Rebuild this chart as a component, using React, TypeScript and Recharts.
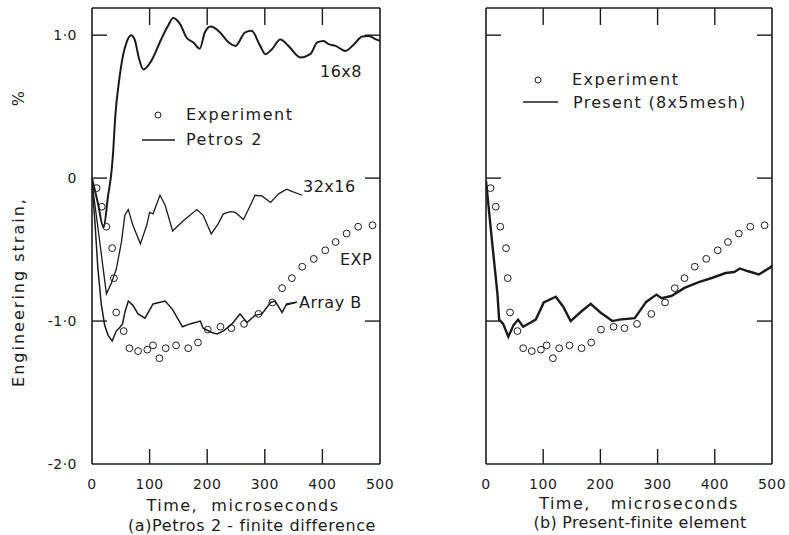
import React from 'react';
import {
  ComposedChart, Line, Scatter, XAxis, YAxis,
} from 'recharts';

// experiment (same test record in both panels)
const EXP_T = [8, 17, 25, 35, 38, 42, 55, 65, 80, 96, 106, 117, 128, 146, 167, 184, 201, 223, 242, 264, 289, 313, 330, 347, 365, 385, 405, 423, 442, 462, 487];
const EXP_V = [-0.07, -0.2, -0.34, -0.49, -0.7, -0.94, -1.07, -1.19, -1.21, -1.2, -1.17, -1.26, -1.19, -1.17, -1.19, -1.15, -1.06, -1.04, -1.05, -1.02, -0.95, -0.87, -0.77, -0.7, -0.62, -0.565, -0.505, -0.447, -0.388, -0.34, -0.33];

// Petros 2, 16x8 mesh
const MESH16_T = [0, 10, 20, 28, 34, 37, 40, 47, 54, 60, 68, 74, 82, 89, 103, 120, 132, 141, 153, 164, 176, 187, 196, 206, 222, 237, 249, 266, 277, 292, 301, 312, 327, 341, 362, 379, 391, 402, 411, 423, 440, 455, 469, 481, 492, 500];
const MESH16_V = [0, -0.17, -0.345, -0.12, 0.05, 0.2, 0.41, 0.68, 0.86, 0.95, 1.0, 0.97, 0.83, 0.76, 0.82, 0.97, 1.065, 1.12, 1.077, 0.984, 0.949, 0.905, 1.02, 1.06, 1.02, 0.95, 0.925, 1.02, 1.03, 0.925, 0.867, 0.9, 0.97, 0.925, 0.844, 0.867, 0.949, 0.96, 0.937, 0.925, 0.89, 0.937, 0.99, 0.995, 0.972, 0.96];

// Petros 2, 32x16 mesh
const MESH32_T = [0, 12, 25, 33, 42, 51, 57, 63, 71, 84, 95, 100, 106, 118, 127, 140, 158, 182, 193, 207, 219, 228, 240, 249, 263, 275, 283, 295, 310, 324, 338, 347, 365];
const MESH32_V = [-0.03, -0.4, -0.81, -0.74, -0.64, -0.45, -0.26, -0.22, -0.33, -0.46, -0.33, -0.24, -0.25, -0.12, -0.19, -0.37, -0.3, -0.22, -0.26, -0.39, -0.32, -0.25, -0.235, -0.24, -0.29, -0.19, -0.12, -0.125, -0.17, -0.11, -0.077, -0.093, -0.12];

// Petros 2, Array B
const ARRAYB_T = [0, 5, 10, 16, 22, 28, 35, 42, 47, 53, 57, 63, 71, 80, 92, 106, 127, 140, 157, 170, 188, 193, 208, 217, 228, 243, 257, 269, 283, 295, 310, 318, 330, 338, 353];
const ARRAYB_V = [-0.03, -0.3, -0.62, -0.88, -1.03, -1.1, -1.14, -1.07, -1.05, -1.02, -0.94, -0.86, -0.89, -0.95, -0.98, -0.88, -0.86, -0.92, -1.04, -1.02, -1.0, -1.05, -1.08, -1.09, -1.07, -1.02, -0.95, -1.01, -0.96, -0.95, -0.87, -0.86, -0.94, -0.88, -0.87];

// present finite element, 8x5 mesh
const PRESENT_T = [0, 11, 20, 23, 30, 39, 48, 56, 65, 87, 101, 122, 135, 148, 166, 183, 200, 221, 233, 260, 280, 298, 307, 324, 347, 372, 396, 419, 434, 444, 457, 477, 498, 500];
const PRESENT_V = [-0.02, -0.46, -0.81, -0.99, -1.02, -1.11, -1.03, -0.99, -1.04, -0.99, -0.87, -0.83, -0.9, -1.0, -0.935, -0.88, -0.94, -1.0, -0.99, -0.98, -0.866, -0.815, -0.84, -0.825, -0.768, -0.727, -0.697, -0.664, -0.657, -0.632, -0.65, -0.674, -0.622, -0.61];

const X_TICKS = [0, 100, 200, 300, 400, 500];
const X_MARKS = [100, 200, 300, 400];
const Y_TICKS = [-2, -1, 0, 1];
const Y_MARKS = [-1, 0, 1];
const Y_TICK_LABELS = ['-2·0', '-1·0', '0', '1·0'];

const zip = (ts: number[], vs: number[]) => ts.map((t, i) => ({ t, v: vs[i] }));
const expData = zip(EXP_T, EXP_V);

const INK = '#1b1b1b';
const FONT = '"DejaVu Sans", sans-serif';
const X_MIN = 0, X_MAX = 500;
const Y_MIN = -2, Y_MAX = 1.19;

// panel geometry (page px): chart offset/size and margins
const H = 535;
const TOP = 7, BOTTOM = 70;
const PANELS = [
  { left: 0, width: 400, ml: 91, mr: 19 },
  { left: 400, width: 389, ml: 85, mr: 16 },
];

function OpenCircle(p: any) {
  return <circle cx={p.cx} cy={p.cy} r={3.4} fill="none" stroke={INK} strokeWidth={1} />;
}

function LeftLabel({ x, y, payload, show }: any) {
  if (!show) return <g />;
  return (
    <text x={x} y={y} dy="0.35em" textAnchor="end" fontSize={14} fontFamily={FONT} fill={INK} letterSpacing={0.5}>
      {Y_TICK_LABELS[Y_TICKS.indexOf(payload.value)]}
    </text>
  );
}

// axes need a non-zero size (1px) or recharts skips drawing them
function frame(labels: boolean) {
  const line = { stroke: INK, strokeWidth: 1.6 };
  return [
    <XAxis key="b" xAxisId="b" dataKey="t" type="number" domain={[X_MIN, X_MAX]} ticks={X_TICKS} interval={0}
      height={1} axisLine={line} tickLine={false} tickMargin={9} allowDataOverflow
      tick={{ fontSize: 14, fill: INK, fontFamily: FONT, letterSpacing: 0.5 }} />,
    <XAxis key="t" xAxisId="top" orientation="top" dataKey="t" type="number" domain={[X_MIN, X_MAX]}
      height={1} axisLine={line} tickLine={false} tick={false} />,
    <YAxis key="l" yAxisId="l" type="number" domain={[Y_MIN, Y_MAX]} ticks={Y_TICKS} interval={0} width={1}
      axisLine={line} tickLine={false} tickMargin={9} allowDataOverflow
      tick={<LeftLabel show={labels} />} />,
    <YAxis key="r" yAxisId="r" orientation="right" type="number" domain={[Y_MIN, Y_MAX]} width={1}
      axisLine={line} tickLine={false} tick={false} allowDataOverflow />,
  ];
}

// inward tick marks on all four sides of a panel box
function PanelTicks({ p }: { p: typeof PANELS[number] }) {
  const x0 = p.left + p.ml + 1, x1 = p.left + p.width - p.mr - 1;
  const y0 = TOP + 1, y1 = H - BOTTOM - 1;
  const sx = (t: number) => x0 + ((t - X_MIN) / (X_MAX - X_MIN)) * (x1 - x0);
  const sy = (v: number) => y0 + ((Y_MAX - v) / (Y_MAX - Y_MIN)) * (y1 - y0);
  return (
    <g stroke={INK} strokeWidth={1.4}>
      {X_MARKS.map((t) => <line key={`b${t}`} x1={sx(t)} x2={sx(t)} y1={y1} y2={y1 - 15} />)}
      {X_MARKS.map((t) => <line key={`t${t}`} x1={sx(t)} x2={sx(t)} y1={y0} y2={y0 + 17} />)}
      {Y_MARKS.map((v) => <line key={`l${v}`} x1={x0} x2={x0 + 15} y1={sy(v)} y2={sy(v)} />)}
      {Y_MARKS.map((v) => <line key={`r${v}`} x1={x1} x2={x1 - 15} y1={sy(v)} y2={sy(v)} />)}
    </g>
  );
}

const txt = (extra: React.CSSProperties): React.CSSProperties => ({
  position: 'absolute', fontFamily: FONT, color: INK, fontSize: 16,
  letterSpacing: 1.5, whiteSpace: 'pre', lineHeight: 1, ...extra,
});

const margin = (i: number) => ({ top: TOP, bottom: BOTTOM, left: PANELS[i].ml, right: PANELS[i].mr });

export default function App() {
  return (
    <div style={{ position: 'absolute', left: 0, top: 0, width: 789, height: H, background: '#fff', overflow: 'hidden' }}>
      <div style={{ position: 'absolute', left: PANELS[0].left, top: 0 }}>
        <ComposedChart width={PANELS[0].width} height={H} margin={margin(0)}>
          {frame(true)}
          <Line xAxisId="b" yAxisId="l" data={zip(MESH16_T, MESH16_V)} dataKey="v" type="monotone"
            stroke={INK} strokeWidth={2} dot={false} isAnimationActive={false} />
          <Line xAxisId="b" yAxisId="l" data={zip(MESH32_T, MESH32_V)} dataKey="v" type="linear"
            stroke={INK} strokeWidth={1.3} dot={false} isAnimationActive={false} />
          <Line xAxisId="b" yAxisId="l" data={zip(ARRAYB_T, ARRAYB_V)} dataKey="v" type="linear"
            stroke={INK} strokeWidth={1.5} dot={false} isAnimationActive={false} />
          <Scatter xAxisId="b" yAxisId="l" data={expData} dataKey="v" shape={OpenCircle} isAnimationActive={false} />
        </ComposedChart>
      </div>
      <div style={{ position: 'absolute', left: PANELS[1].left, top: 0 }}>
        <ComposedChart width={PANELS[1].width} height={H} margin={margin(1)}>
          {frame(false)}
          <Line xAxisId="b" yAxisId="l" data={zip(PRESENT_T, PRESENT_V)} dataKey="v" type="linear"
            stroke={INK} strokeWidth={2.4} dot={false} isAnimationActive={false} />
          <Scatter xAxisId="b" yAxisId="l" data={expData} dataKey="v" shape={OpenCircle} isAnimationActive={false} />
        </ComposedChart>
      </div>

      {/* y title */}
      <div style={txt({ left: 19, top: 292, letterSpacing: 2, transform: 'translate(-50%,-50%) rotate(-90deg)' })}>Engineering strain,</div>
      <div style={txt({ left: 19, top: 98, transform: 'translate(-50%,-50%) rotate(-90deg)' })}>%</div>

      {/* box ticks, legend marks and leader */}
      <svg style={{ position: 'absolute', left: 0, top: 0 }} width={789} height={H}>
        <PanelTicks p={PANELS[0]} />
        <PanelTicks p={PANELS[1]} />
        <circle cx={158} cy={115} r={3} fill="none" stroke={INK} strokeWidth={1} />
        <line x1={142} y1={140} x2={175} y2={140} stroke={INK} strokeWidth={1.6} />
        <circle cx={538} cy={80} r={3} fill="none" stroke={INK} strokeWidth={1} />
        <line x1={523} y1={102} x2={558} y2={102} stroke={INK} strokeWidth={1.6} />
        <line x1={286} y1={305} x2={297} y2={302} stroke={INK} strokeWidth={1.3} />
      </svg>
      <div style={txt({ left: 186, top: 107 })}>Experiment</div>
      <div style={txt({ left: 186, top: 132 })}>Petros 2</div>
      <div style={txt({ left: 320, top: 64, letterSpacing: 0.5 })}>16x8</div>
      <div style={txt({ left: 303, top: 179, letterSpacing: 0.5 })}>32x16</div>
      <div style={txt({ left: 340, top: 252, letterSpacing: 0.5 })}>EXP</div>
      <div style={txt({ left: 299, top: 295, letterSpacing: 0.5 })}>Array B</div>

      {/* right legend */}
      <div style={txt({ left: 572, top: 72 })}>Experiment</div>
      <div style={txt({ left: 573, top: 95, letterSpacing: 1.3 })}>Present (8x5mesh)</div>

      {/* captions */}
      <div style={txt({ left: 243, top: 506, transform: 'translate(-50%,-50%)' })}>Time,  microseconds</div>
      <div style={txt({ left: 252, top: 526, letterSpacing: 0.6, transform: 'translate(-50%,-50%)' })}>(a)Petros 2 - finite difference</div>
      <div style={txt({ left: 639, top: 504, transform: 'translate(-50%,-50%)' })}>Time,   microseconds</div>
      <div style={txt({ left: 640, top: 523, letterSpacing: 0.3, transform: 'translate(-50%,-50%)' })}>(b) Present-finite element</div>
    </div>
  );
}
